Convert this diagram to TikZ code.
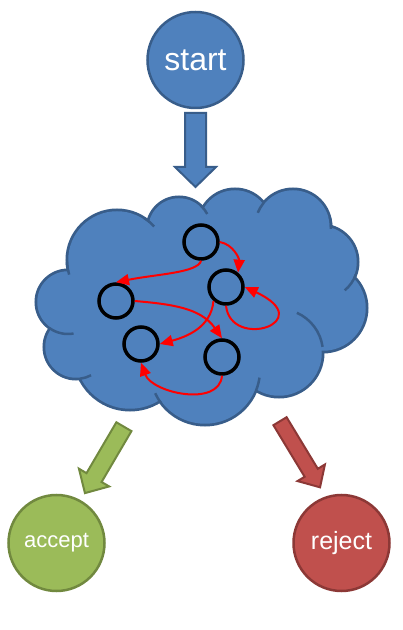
\documentclass[tikz,border=0pt]{standalone}
\usepackage{fontspec}
\setmainfont{Liberation Sans}
\usetikzlibrary{arrows.meta}
\definecolor{bfill}{HTML}{4F81BD}
\definecolor{bline}{HTML}{385D8A}
\definecolor{gfill}{HTML}{9BBB59}
\definecolor{gline}{HTML}{71893F}
\definecolor{rfill}{HTML}{C0504D}
\definecolor{rline}{HTML}{8C3836}
\definecolor{edgered}{HTML}{FF0000}
\newcommand{\blockarrow}[7]{%
  \begin{scope}[shift={#2}, rotate=#3]
    \draw[#1] (0,-#5/2) -- (#4-#7,-#5/2) -- (#4-#7,-#6/2) -- (#4,0)
      -- (#4-#7,#6/2) -- (#4-#7,#5/2) -- (0,#5/2) -- cycle;
  \end{scope}}
\begin{document}
\begin{tikzpicture}[x=1pt, y=1pt,
  bignode/.style={circle, line width=2.5pt, minimum size=96pt, inner sep=0pt, text=white},
  startnode/.style={bignode, fill=bfill, draw=bline, font=\fontsize{32}{36}\selectfont},
  acceptnode/.style={bignode, fill=gfill, draw=gline, font=\fontsize{22}{26}\selectfont},
  rejectnode/.style={bignode, fill=rfill, draw=rline, font=\fontsize{25}{29}\selectfont},
  statenode/.style={circle, draw=black, line width=3.5pt, minimum size=34pt, inner sep=0pt},
  edge/.style={draw=edgered, line width=2pt, -{Triangle[length=13pt, width=11pt]}},
  cloudline/.style={draw=bline, line width=2.5pt},
  barrow/.style={fill=bfill, draw=bline, line width=2pt, line join=miter},
  garrow/.style={fill=gfill, draw=gline, line width=2pt, line join=miter},
  rarrow/.style={fill=rfill, draw=rline, line width=2pt, line join=miter}]
\useasboundingbox (0,0) rectangle (403,630);

% cloud: union of bumps
\def\bumps{68/328/32, 117/370/50, 179/401/32, 235/404/37, 293/403/38, 321/368/37, 323/322/44, 279/277/44, 205/260/55, 130/276/56, 76/283/32}
\foreach \cx/\cy/\r in \bumps
  \draw[bline, line width=5.5pt] (\cx,\cy) circle[radius=\r-1.25];
\fill[bfill] (68,328) -- (117,370) -- (179,401) -- (235,404) -- (293,403) -- (321,368)
  -- (323,322) -- (279,277) -- (205,260) -- (130,276) -- (76,283) -- cycle;
\foreach \cx/\cy/\r in \bumps
  \fill[bfill] (\cx,\cy) circle[radius=\r-1.25];
% inner strokes of the cloud
\draw[cloudline] (117,370) ++(182:50) arc[start angle=182, end angle=197, radius=50];
\draw[cloudline] (68,328) ++(235:32) arc[start angle=235, end angle=280, radius=32];
\draw[cloudline] (76,283) ++(278:32) arc[start angle=278, end angle=298, radius=32];
\draw[cloudline] (205,260) ++(217:55) arc[start angle=217, end angle=205, radius=55];
\draw[cloudline] (117,370) ++(57:50) arc[start angle=57, end angle=42, radius=50];
\draw[cloudline] (179,401) ++(47:32) arc[start angle=47, end angle=28, radius=32];
\draw[cloudline] (293,403) ++(141:38) arc[start angle=141, end angle=158, radius=38];
\draw[cloudline] (293,403) ++(15:38) arc[start angle=15, end angle=-3, radius=38];
\draw[cloudline] (321,368) ++(-20:37) arc[start angle=-20, end angle=-50, radius=37];
\draw[cloudline] (279,277) ++(66:44) arc[start angle=66, end angle=8, radius=44];
\draw[cloudline] (205,260) ++(-22:55) arc[start angle=-22, end angle=-8, radius=55];

% big nodes
\node[startnode] (start) at (195.5,570) {start};
\node[acceptnode] (accept) at (56.5,87) {accept};
\node[rejectnode] (reject) at (341.5,87) {reject};

% block arrows
\blockarrow{barrow}{(195.5,517)}{-90}{74}{21}{41}{20}
\blockarrow{garrow}{(123.9,203.3)}{-120.4}{77}{17.5}{35}{18}
\blockarrow{rarrow}{(280,208.8)}{-58.8}{77.3}{15.4}{32}{17}

% states
\node[statenode] (A) at (201,388) {};
\node[statenode] (B) at (226,343) {};
\node[statenode] (C) at (116,329) {};
\node[statenode] (D) at (141,286) {};
\node[statenode] (E) at (222,273) {};

% transitions
\draw[edge] (A.east) to[out=-10, in=85] (B.50);
\draw[edge] (A.south) .. controls +(-3,-12) and +(40,8) .. (C.north);
\draw[edge] (C.east) to[out=-5, in=125] (E.north);
\draw[edge] (B.228) to[out=-95, in=15] (D.east);
\draw[edge] (B.south) .. controls +(5,-45) and +(75,-35) .. (B.east);
\draw[edge] (E.south) to[out=-95, in=-70] (D.south);
\end{tikzpicture}
\end{document}
